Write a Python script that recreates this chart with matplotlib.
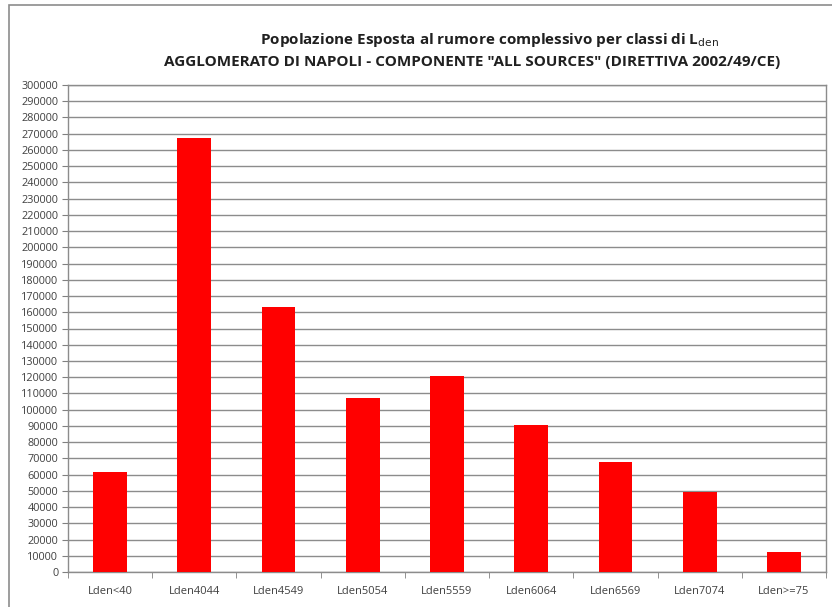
import matplotlib
matplotlib.use("Agg")
import matplotlib.pyplot as plt
from matplotlib.patches import Rectangle
import numpy as np

plt.rcParams['font.family'] = ['Open Sans', 'DejaVu Sans']

categories = ["Lden<40", "Lden4044", "Lden4549", "Lden5054", "Lden5559",
              "Lden6064", "Lden6569", "Lden7074", "Lden>=75"]
popolazione = [61500, 267500, 163000, 107000, 121000, 90500, 68000, 49500, 12500]
yticks = list(range(0, 300001, 10000))

W, H = 832, 607
fig = plt.figure(figsize=(W / 100, H / 100), dpi=100)

# chart area border (left and top visible)
fig.add_artist(Rectangle((9 / W, -0.05), 1.1, 1 - 5 / H + 0.05, transform=fig.transFigure,
                         fill=False, edgecolor="#8c8c8c", linewidth=1.2))

ax = fig.add_axes([68 / W, 35 / H, 758 / W, 487 / H])
x = np.arange(len(categories))
ax.bar(x, popolazione, width=0.4, color="#ff0000", zorder=3)

ax.set_xlim(-0.5, len(categories) - 0.5)
ax.set_ylim(0, 300000)
ax.set_yticks(yticks)
ax.set_yticklabels([str(v) for v in yticks], fontsize=7.8, color="#404040")
ax.set_xticks(x)
ax.set_xticklabels(categories, fontsize=8, color="#404040")
ax.tick_params(axis="x", length=0, pad=10)
ax.set_xticks(np.arange(-0.5, len(categories)), minor=True)
ax.tick_params(axis="x", which="minor", length=4, direction="out", color="#808080")
ax.tick_params(axis="y", length=4, direction="out", color="#808080", pad=3)

ax.yaxis.grid(True, color="#8c8c8c", linewidth=1.0, zorder=0)
for s in ax.spines.values():
    s.set_color("#8c8c8c")
    s.set_linewidth(1.0)

fig.text(489 / W, 1 - 40 / H, r"Popolazione Esposta al rumore complessivo per classi di L$_{\mathrm{den}}$",
         ha="center", va="center", fontsize=11, fontweight="bold", color="#202020")
fig.text(472 / W, 1 - 62 / H, 'AGGLOMERATO DI NAPOLI - COMPONENTE "ALL SOURCES" (DIRETTIVA 2002/49/CE)',
         ha="center", va="center", fontsize=11, fontweight="bold", color="#202020")

fig.savefig("out.png", dpi=100)
